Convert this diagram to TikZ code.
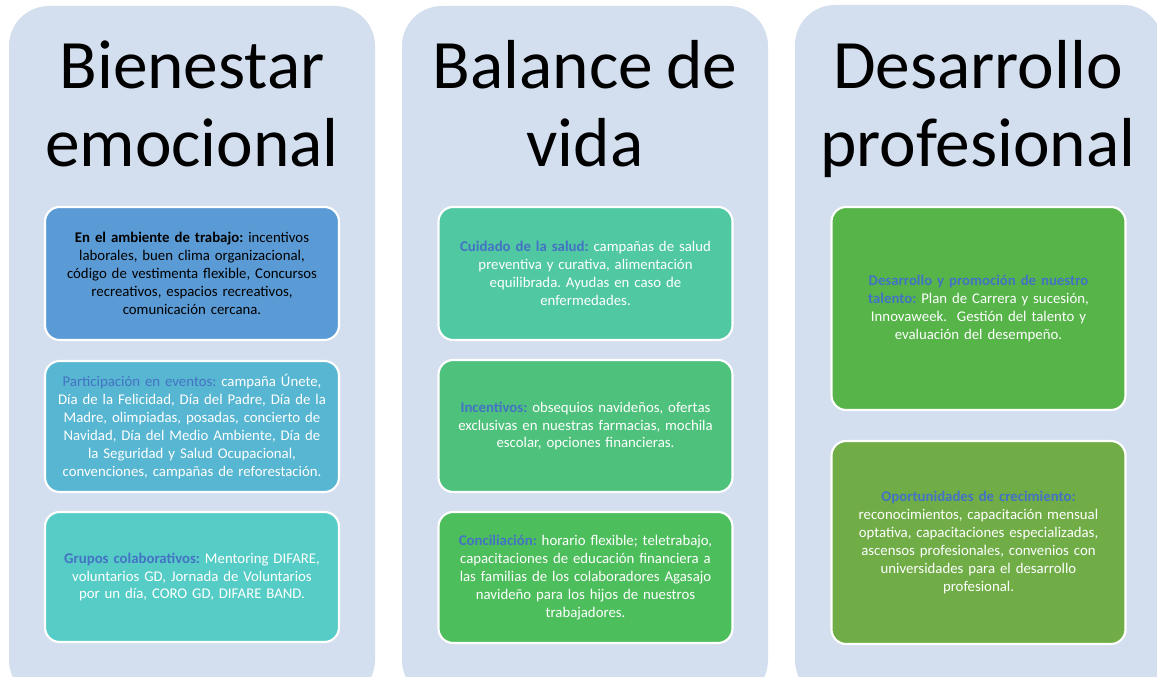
\documentclass[tikz,border=0pt]{standalone}
\usepackage{fontspec}
\setmainfont{Carlito}[WordSpace={0.85,0.6,0.6}]
\frenchspacing
\definecolor{panel}{HTML}{D3DEEF}
\definecolor{hblue}{HTML}{4472C4}
\definecolor{cA}{HTML}{5B9BD5}
\definecolor{cB}{HTML}{57B6D2}
\definecolor{cC}{HTML}{55CDC6}
\definecolor{cD}{HTML}{50C8A1}
\definecolor{cE}{HTML}{4EC27C}
\definecolor{cF}{HTML}{4DBE5C}
\definecolor{cG}{HTML}{56B449}
\definecolor{cH}{HTML}{70AD47}
\tikzset{
  panelbox/.style={fill=panel, rounded corners=30pt},
  title/.style={font=\fontsize{52}{58.5}\selectfont, align=center, anchor=base, inner sep=0pt},
  itembox/.style={draw=white, line width=1.6pt, rounded corners=11pt, minimum width=220.5pt, inner sep=0pt, align=center, text width=214pt, font=\fontsize{11.1}{13.4}\selectfont\frenchspacing, text=white},
}
\newcommand{\hd}[1]{\textbf{\textcolor{hblue}{#1}}}
\begin{document}
\begin{tikzpicture}[x=0.75pt,y=-0.75pt]
\useasboundingbox (0,0) rectangle (1157,677);
\clip (0,0) rectangle (1157,677);
\fill[white] (0,0) rectangle (1157,677);
% panels
\path[panelbox] (9,6) rectangle (375,700);
\path[panelbox] (402,6) rectangle (768,700);
\path[panelbox] (795,5) rectangle (1163,700);
% titles
\node[title] (t1) at (192,89) {Bienestar};
\node[title] (t1b) at (192,167) {emocional};
\node[title] (t2) at (585,89) {Balance de};
\node[title] (t2b) at (585,167) {vida};
\node[title] (t3) at (978,89) {Desarrollo};
\node[title] (t3b) at (978,167) {profesional};
% column 1
\node[itembox, fill=cA, minimum height=99.75pt, text=black] (b1) at (192,273.5)
 {\textbf{En el ambiente de trabajo:} incentivos\\ laborales, buen clima organizacional,\\ código de vestimenta flexible, Concursos\\ recreativos, espacios recreativos,\\ comunicación cercana.};
\node[itembox, fill=cB, minimum height=98.25pt] (b2) at (192,426.5)
 {\textcolor{hblue}{Participación en eventos:} campaña Únete,\\ Día de la Felicidad, Día del Padre, Día de la\\ Madre, olimpiadas, posadas, concierto de\\ Navidad, Día del Medio Ambiente, Día de\\ la Seguridad y Salud Ocupacional,\\ convenciones, campañas de reforestación.};
\node[itembox, fill=cC, minimum height=97.5pt] (b3) at (192,577)
 {\hd{Grupos colaborativos:} Mentoring DIFARE,\\ voluntarios GD, Jornada de Voluntarios\\ por un día, CORO GD, DIFARE BAND.};
% column 2
\node[itembox, fill=cD, minimum height=99.75pt] (b4) at (585.5,273.5)
 {\hd{Cuidado de la salud:} campañas de salud\\ preventiva y curativa, alimentación\\ equilibrada. Ayudas en caso de\\ enfermedades.};
\node[itembox, fill=cE, minimum height=99pt] (b5) at (585.5,426)
 {\hd{Incentivos:} obsequios navideños, ofertas\\ exclusivas en nuestras farmacias, mochila\\ escolar, opciones financieras.};
\node[itembox, fill=cF, minimum height=98.25pt] (b6) at (585.5,577.5)
 {\hd{Conciliación:} horario flexible; teletrabajo,\\ capacitaciones de educación financiera a\\ las familias de los colaboradores Agasajo\\ navideño para los hijos de nuestros\\ trabajadores.};
% column 3
\node[itembox, fill=cG, minimum height=152.25pt] (b7) at (978.5,308.5)
 {\hd{Desarrollo y promoción de nuestro}\\ \hd{talento:} Plan de Carrera y sucesión,\\ Innovaweek.\ \ Gestión del talento y\\ evaluación del desempeño.};
\node[itembox, fill=cH, minimum height=152.25pt] (b8) at (978.5,542.5)
 {\hd{Oportunidades de crecimiento:}\\ reconocimientos, capacitación mensual\\ optativa, capacitaciones especializadas,\\ ascensos profesionales, convenios con\\ universidades para el desarrollo\\ profesional.};
\end{tikzpicture}
\end{document}
